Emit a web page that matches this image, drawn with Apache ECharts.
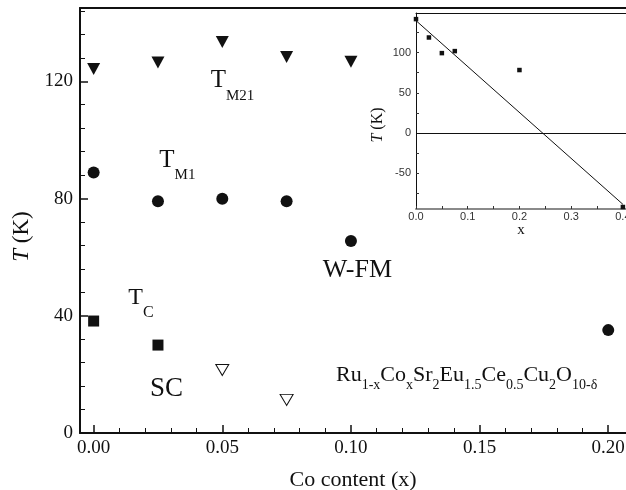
<!DOCTYPE html>
<html>
<head>
<meta charset="utf-8">
<script src="https://cdn.jsdelivr.net/npm/echarts@6/dist/echarts.min.js"></script>
<style>
  html, body { margin: 0; padding: 0; background: #fff; }
  #chart { width: 626px; height: 490px; }
</style>
</head>
<body>
<div id="chart"></div>
<script>
// Phase diagram of Ru1-xCoxSr2Eu1.5Ce0.5Cu2O10-δ versus Co content

// Main panel: transition temperatures (K) against Co content x
const tM21X = [0, 0.025, 0.05, 0.075, 0.1];
const tM21Y = [124.2, 126.4, 133.4, 128.3, 126.7];
const tM1X = [0, 0.025, 0.05, 0.075, 0.1, 0.2];
const tM1Y = [88.9, 79.1, 79.9, 79.1, 65.5, 35.1];
const tcX = [0, 0.025];
const tcY = [38.2, 30.0];
const openX = [0.05, 0.075];
const openY = [21.5, 11.3];

// Inset: Curie-Weiss temperature against x, with a straight-line fit
const insetX = [0, 0.025, 0.05, 0.075, 0.2, 0.4];
const insetY = [141.4, 118.6, 99.2, 101.7, 78.2, -91.8];
const fitX = [0, 0.4];
const fitY = [139.5, -88.5];

// Tick positions
const mainXLabels = [0, 0.05, 0.10, 0.15, 0.20];
const mainXMinor = [0.01, 0.02, 0.03, 0.04, 0.06, 0.07, 0.08, 0.09, 0.11, 0.12, 0.13, 0.14, 0.16, 0.17, 0.18, 0.19];
const mainYLabels = [0, 40, 80, 120];
const mainYMinor = [8, 16, 24, 32, 48, 56, 64, 72, 88, 96, 104, 112, 128, 136, 144];
const insetXLabels = [0, 0.1, 0.2, 0.3, 0.4];
const insetXTicks = [0, 0.05, 0.1, 0.15, 0.2, 0.25, 0.3, 0.35, 0.4];
const insetYLabels = [-50, 0, 50, 100];
const insetYTicks = [-75, -50, -25, 0, 25, 50, 75, 100, 125];

const INK = '#111';
const SERIF = '"Liberation Serif", "Times New Roman", serif';
const SANS = '"Liberation Sans", Arial, sans-serif';

const zip = (xs, ys) => xs.map((x, i) => [x, ys[i]]);

// Text with subscripts built from rich tokens; parts alternate base / subscript.
// Base tokens sit at the top of the line box, subscripts at its bottom.
function subText(x, capTop, parts, F, f, drop) {
  const L = drop + F / 2 + 0.3375 * F + f / 2 - 0.3375 * f;
  let text = '';
  parts.forEach((p, i) => {
    if (p === '') return;
    text += '{' + (i % 2 === 0 ? 'b' : 's') + '|' + p + '}';
  });
  return {
    type: 'text',
    x: x,
    y: capTop - 0.1755 * F,
    z: 100,
    style: {
      text: text,
      verticalAlign: 'top',
      align: 'left',
      fill: INK,
      rich: {
        b: { fontFamily: SERIF, fontSize: F, lineHeight: L, verticalAlign: 'top', fill: INK },
        s: { fontFamily: SERIF, fontSize: f, lineHeight: L, verticalAlign: 'bottom', fill: INK }
      }
    }
  };
}

function plainText(x, capTop, str, F) {
  return {
    type: 'text',
    x: x,
    y: capTop - 0.1755 * F,
    z: 100,
    style: {
      text: str,
      verticalAlign: 'top',
      align: 'left',
      fill: INK,
      font: F + 'px ' + SERIF,
      lineHeight: F
    }
  };
}

const chart = echarts.init(document.getElementById('chart'), null, { renderer: 'canvas' });

const minorTickAxis = (grid, min, max, values, len, color) => ({
  type: 'value', gridIndex: grid, min: min, max: max,
  axisLine: { show: false, onZero: false },
  axisTick: { show: true, inside: true, length: len, customValues: values, lineStyle: { color: color, width: 1 } },
  axisLabel: { show: false },
  splitLine: { show: false }
});

const solid = { color: INK, opacity: 1 };

const option = {
  backgroundColor: '#fff',
  animation: false,
  grid: [
    { left: 80, right: 0, top: 8, bottom: 57, containLabel: false, outerBoundsMode: 'none' },
    { left: 416, right: 0, top: 13, height: 196, containLabel: false, outerBoundsMode: 'none' }
  ],
  xAxis: [
    {
      type: 'value', gridIndex: 0, min: -0.0053, max: 0.2069, position: 'bottom',
      axisLine: { onZero: false, lineStyle: { color: INK, width: 2 } },
      axisTick: { inside: true, length: 8, customValues: mainXLabels, lineStyle: { color: INK, width: 1.5 } },
      axisLabel: {
        customValues: mainXLabels, formatter: v => v.toFixed(2),
        fontFamily: SERIF, fontSize: 19, color: INK, margin: 6
      },
      splitLine: { show: false },
      name: 'Co content (x)', nameLocation: 'middle', nameGap: 36,
      nameTextStyle: { fontFamily: SERIF, fontSize: 22, color: INK }
    },
    Object.assign(minorTickAxis(0, -0.0053, 0.2069, mainXMinor, 5, INK), { position: 'bottom' }),
    {
      type: 'value', gridIndex: 0, min: -0.0053, max: 0.2069, position: 'top',
      axisLine: { onZero: false, lineStyle: { color: INK, width: 2 } },
      axisTick: { show: false }, axisLabel: { show: false }, splitLine: { show: false }
    },
    {
      type: 'value', gridIndex: 1, min: 0, max: 0.406, position: 'bottom',
      axisLine: { onZero: false, lineStyle: { color: '#8a8a8a', width: 2 } },
      axisTick: { inside: true, length: 3, customValues: insetXTicks, lineStyle: { color: '#333', width: 1 } },
      axisLabel: {
        customValues: insetXLabels, formatter: v => v.toFixed(1),
        fontFamily: SANS, fontSize: 11, color: '#333', margin: 2
      },
      splitLine: { show: false },
      name: 'x', nameLocation: 'middle', nameGap: 9,
      nameTextStyle: { fontFamily: SERIF, fontSize: 15, color: INK }
    },
    {
      type: 'value', gridIndex: 1, min: 0, max: 0.406, position: 'top',
      axisLine: { onZero: false, lineStyle: { color: INK, width: 1 } },
      axisTick: { show: false }, axisLabel: { show: false }, splitLine: { show: false }
    }
  ],
  yAxis: [
    {
      type: 'value', gridIndex: 0, min: 0, max: 145, position: 'left',
      axisLine: { onZero: false, lineStyle: { color: INK, width: 2 } },
      axisTick: { inside: true, length: 8, customValues: mainYLabels, lineStyle: { color: INK, width: 1.5 } },
      axisLabel: { customValues: mainYLabels, fontFamily: SERIF, fontSize: 19, color: INK, margin: 7 },
      splitLine: { show: false },
      name: '{i|T} (K)', nameLocation: 'middle', nameGap: 46, nameRotate: 90,
      nameTextStyle: {
        fontFamily: SERIF, fontSize: 23, color: INK, padding: [0, 32, 0, 0],
        rich: { i: { fontFamily: SERIF, fontSize: 23, fontStyle: 'italic', color: INK } }
      }
    },
    Object.assign(minorTickAxis(0, 0, 145, mainYMinor, 5, INK), { position: 'left' }),
    {
      type: 'value', gridIndex: 1, min: -94.3, max: 149, position: 'left',
      axisLine: { onZero: false, lineStyle: { color: INK, width: 1 } },
      axisTick: { inside: true, length: 3, customValues: insetYTicks, lineStyle: { color: '#333', width: 1 } },
      axisLabel: { customValues: insetYLabels, fontFamily: SANS, fontSize: 11, color: '#333', margin: 5 },
      splitLine: { show: false },
      name: '{i|T} (K)', nameLocation: 'middle', nameGap: 30, nameRotate: 90,
      nameTextStyle: {
        fontFamily: SERIF, fontSize: 16, color: INK, padding: [0, 28, 0, 0],
        rich: { i: { fontFamily: SERIF, fontSize: 16, fontStyle: 'italic', color: INK } }
      }
    }
  ],
  series: [
    {
      name: 'TM21', type: 'scatter', xAxisIndex: 0, yAxisIndex: 0,
      data: zip(tM21X, tM21Y), symbol: 'triangle', symbolRotate: 180, symbolSize: [13, 12],
      itemStyle: solid
    },
    {
      name: 'TM1', type: 'scatter', xAxisIndex: 0, yAxisIndex: 0,
      data: zip(tM1X, tM1Y), symbol: 'circle', symbolSize: 12,
      itemStyle: solid
    },
    {
      name: 'Tc', type: 'scatter', xAxisIndex: 0, yAxisIndex: 0,
      data: zip(tcX, tcY), symbol: 'rect', symbolSize: 11,
      itemStyle: solid
    },
    {
      name: 'open', type: 'scatter', xAxisIndex: 0, yAxisIndex: 0,
      data: zip(openX, openY), symbol: 'triangle', symbolRotate: 180, symbolSize: [13, 11],
      itemStyle: { color: '#fff', borderColor: INK, borderWidth: 1, opacity: 1 }
    },
    {
      name: 'fit', type: 'line', xAxisIndex: 3, yAxisIndex: 2, z: 20,
      data: zip(fitX, fitY), symbol: 'none',
      lineStyle: { color: INK, width: 1 },
      markLine: {
        silent: true, symbol: 'none', label: { show: false }, z: 20,
        lineStyle: { color: INK, width: 1, type: 'solid' },
        data: [{ yAxis: 0 }]
      }
    },
    {
      name: 'inset', type: 'scatter', xAxisIndex: 3, yAxisIndex: 2, z: 21, clip: false,
      data: zip(insetX, insetY), symbol: 'rect', symbolSize: 4.5,
      itemStyle: solid
    }
  ],
  graphic: [
    subText(210.7, 72.7, ['T', 'M21'], 25, 15, 11.4),
    subText(159.3, 152.3, ['T', 'M1'], 25, 15, 11.7),
    subText(128.3, 290, ['T', 'C'], 24, 16, 12.3),
    plainText(150, 380, 'SC', 27),
    plainText(322.7, 261.7, 'W-FM', 26),
    subText(336, 367.7, ['Ru', '1-x', 'Co', 'x', 'Sr', '2', 'Eu', '1.5', 'Ce', '0.5', 'Cu', '2', 'O', '10-δ'], 22, 14, 8)
  ]
};

chart.setOption(option);
</script>
</body>
</html>
